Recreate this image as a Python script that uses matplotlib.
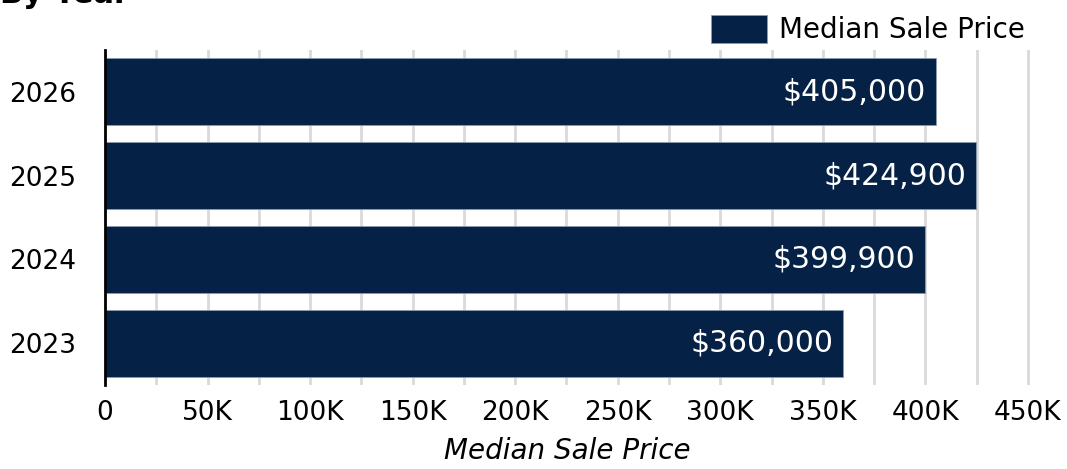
import matplotlib.pyplot as plt
import numpy as np

years = ['2023', '2024', '2025', '2026']
prices = [360000, 399900, 424900, 405000]
price_labels = ['$360,000', '$399,900', '$424,900', '$405,000']
xticks = np.arange(0, 450001, 50000)
xtick_labels = ['0'] + ['{}K'.format(v // 1000) for v in xticks[1:]]

plt.rcParams['font.family'] = ['DejaVu Sans']
navy = '#052146'

fig = plt.figure(figsize=(10.67, 4.69), dpi=100)
ax = fig.add_axes([105 / 1067, 1 - 385 / 469, (1030 - 105) / 1067, (385 - 50) / 469])

y = np.arange(len(years))
bars = ax.barh(y, prices, height=0.8, color=navy, edgecolor='#8a9ab0',
               linewidth=0.6, label='Median Sale Price', zorder=3)

for b, txt in zip(bars, price_labels):
    ax.text(b.get_width() - 5000, b.get_y() + b.get_height() / 2, txt,
            ha='right', va='center', color='white', fontsize=21.5, zorder=4)

ax.set_xlim(0, 451000)
ax.set_ylim(-0.5, 3.5)
ax.set_yticks(y)
ax.set_yticklabels(years, fontsize=19)
ax.set_xticks(xticks)
ax.set_xticklabels(xtick_labels, fontsize=19)
ax.set_xticks(np.arange(25000, 450001, 50000), minor=True)
ax.grid(True, axis='x', which='both', color='#d9d9d9', linewidth=2, zorder=0)
ax.tick_params(axis='both', which='both', length=0)
ax.tick_params(axis='x', pad=11)
ax.tick_params(axis='y', pad=21)
for s in ['top', 'right', 'bottom']:
    ax.spines[s].set_visible(False)
ax.spines['left'].set_linewidth(2)
ax.spines['left'].set_zorder(5)

ax.set_xlabel('Median Sale Price', fontsize=20, style='italic', labelpad=8)

ax.legend(loc='lower right', bbox_to_anchor=(1.0, 1.0), frameon=False,
          fontsize=20, handlelength=2.05, handleheight=1.2, borderaxespad=0.0,
          handletextpad=0.4, borderpad=0.2)

fig.text(0.0, 1 - 3 / 469, 'By Year', fontsize=22, fontweight='bold',
         ha='left', va='baseline')

fig.savefig('out.png', dpi=100)
